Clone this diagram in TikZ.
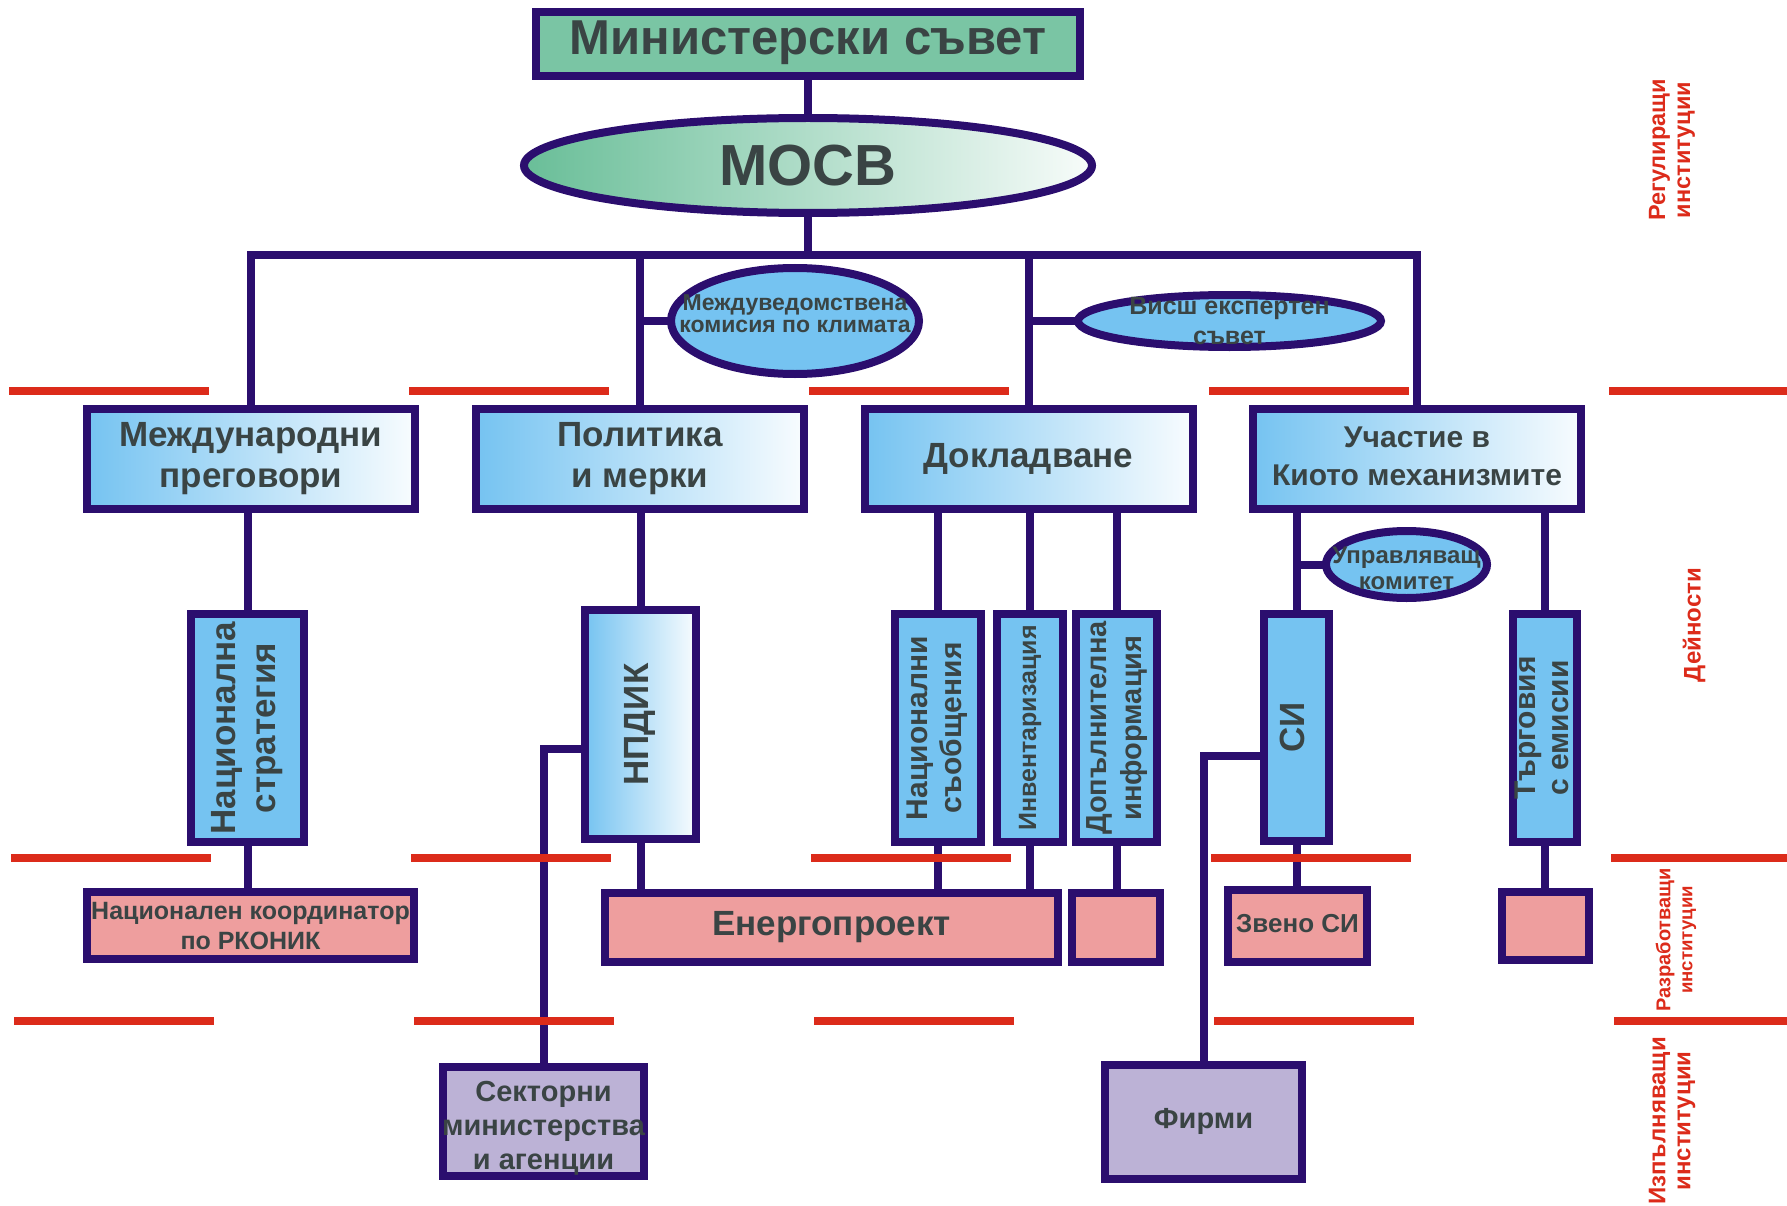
\documentclass[tikz,border=0pt]{standalone}
\usepackage{fontspec}
\setmainfont{Liberation Sans}
\usepackage{graphicx}
\usetikzlibrary{shapes.geometric,shadings}

\definecolor{frame}{RGB}{43,14,110}
\definecolor{topgreen}{RGB}{122,197,164}
\definecolor{ellgreen}{RGB}{105,190,152}
\definecolor{skyb}{RGB}{117,195,241}
\definecolor{pinkf}{RGB}{238,158,158}
\definecolor{lavf}{RGB}{188,178,214}
\definecolor{redl}{RGB}{220,43,26}
\definecolor{txt}{RGB}{58,68,68}

\newcommand{\fs}[2]{\fontsize{#1}{#2}\selectfont}
\newcommand{\ct}[1]{\makebox[0pt]{\begin{tabular}{@{}c@{}}#1\end{tabular}}}
\newcommand{\vt}[1]{\makebox[0pt]{\rotatebox{90}{\begin{tabular}{@{}c@{}}#1\end{tabular}}}}
\newcommand{\lowr}[2]{\raisebox{-#1}[\height][\depth]{#2}}

\begin{document}
\begin{tikzpicture}[x=1pt,y=-1pt,
  bx/.style={rectangle,draw=frame,line width=8pt,inner sep=0pt,outer sep=0pt,text=txt,font=\bfseries},
  elb/.style={ellipse,draw=frame,line width=8pt,inner sep=0pt,outer sep=0pt},
  gblue/.style={left color=skyb,right color=white!95!skyb},
  sblue/.style={fill=skyb},
  pnk/.style={fill=pinkf},
  lav/.style={fill=lavf},
  conn/.style={draw=frame,line width=8pt},
  redln/.style={draw=redl,line width=8pt,dash pattern=on 200pt off 200pt},
  rlab/.style={text=redl,font=\bfseries,rotate=90,align=center,inner sep=0pt},
  elab/.style={text=txt,align=center,inner sep=0pt}
]
\useasboundingbox (0,0) rectangle (1787,1206);

% level 0
\node[bx,fill=topgreen,minimum width=544,minimum height=64,font=\bfseries\fs{49}{55}] (ms) at (808,44) {\ct{Министерски съвет}};
\node[elb,left color=ellgreen,right color=white!95!ellgreen,minimum width=568,minimum height=95,
  label={[elab,font=\bfseries\fs{58}{64}]center:МОСВ}] (mosv) at (808,165.5) {};
\coordinate (bus) at (808,255);

% commissions
\node[elb,sblue,minimum width=248,minimum height=106,
  label={[elab,font=\bfseries\fs{23}{22},yshift=7pt]center:{Междуведомствена\\комисия по климата}}] (mvk) at (795,321) {};
\node[elb,sblue,minimum width=303,minimum height=52,
  label={[elab,font=\bfseries\fs{25}{30}]center:{Висш експертен\\съвет}}] (ves) at (1229.5,321) {};

% level 2
\node[bx,gblue,minimum width=328,minimum height=100,font=\bfseries\fs{35}{41}] (mp) at (251,459) {\ct{Международни\\преговори}};
\node[bx,gblue,minimum width=328,minimum height=100,font=\bfseries\fs{35}{41}] (pm) at (640,459) {\ct{Политика\\и мерки}};
\node[bx,gblue,minimum width=328,minimum height=100,font=\bfseries\fs{35}{41}] (dk) at (1028.5,459) {\ct{Докладване}};
\node[bx,gblue,minimum width=328,minimum height=100,font=\bfseries\fs{30}{38}] (uk) at (1417,459) {\ct{Участие в\\Киото механизмите}};

% level 3
\node[bx,sblue,minimum width=113,minimum height=228,font=\bfseries\fs{35}{40}] (ns) at (247.5,728) {\vt{Национална\\стратегия}};
\node[bx,gblue,minimum width=111,minimum height=229,font=\bfseries\fs{35}{40}] (npdik) at (640.5,724.5) {\vt{НПДИК}};
\node[bx,sblue,minimum width=86,minimum height=228,font=\bfseries\fs{30}{34}] (nsb) at (938,728) {\vt{Национални\\съобщения}};
\node[bx,sblue,minimum width=66,minimum height=228,font=\bfseries\fs{25}{30}] (inv) at (1030,728) {\vt{Инвентаризация}};
\node[bx,sblue,minimum width=81,minimum height=228,font=\bfseries\fs{29}{35}] (dop) at (1116.5,728) {\vt{Допълнителна\\информация}};
\node[bx,sblue,minimum width=65,minimum height=227,font=\bfseries\fs{35}{40}] (si) at (1296.5,727.5) {\vt{СИ}};
\node[bx,sblue,minimum width=64,minimum height=228,font=\bfseries\fs{30}{33}] (tr) at (1545,728) {\vt{Търговия\\с емисии}};
\node[elb,sblue,minimum width=161,minimum height=67,
  label={[elab,font=\bfseries\fs{24}{26},yshift=-4pt]center:{Управляващ\\комитет}}] (upr) at (1406.5,564.5) {};

% level 4
\node[bx,pnk,minimum width=327,minimum height=67,font=\bfseries\fs{25}{30}] (nk) at (250.5,925.5) {\lowr{3pt}{\ct{Национален координатор\\по РКОНИК}}};
\node[bx,pnk,minimum width=453,minimum height=69,font=\bfseries\fs{35}{40}] (en) at (831.5,927.5) {\ct{Енергопроект}};
\node[bx,pnk,minimum width=88,minimum height=69] (p1) at (1116,927.5) {};
\node[bx,pnk,minimum width=139,minimum height=72,font=\bfseries\fs{26}{30}] (zsi) at (1297.5,926) {\ct{Звено СИ}};
\node[bx,pnk,minimum width=87,minimum height=68] (p2) at (1545.5,926) {};

% level 5
\node[bx,lav,minimum width=201,minimum height=109,font=\bfseries\fs{29}{34}] (sek) at (543.5,1121.5) {\lowr{7pt}{\ct{Секторни\\министерства\\и агенции}}};
\node[bx,lav,minimum width=197,minimum height=114,font=\bfseries\fs{29}{34}] (fir) at (1203.5,1122) {\ct{Фирми}};

% connectors
\coordinate (ya) at (0,749);
\coordinate (yb) at (0,756);
\draw[conn] (ms.south) -- (mosv.north);
\draw[conn] (mosv.south) -- (mosv.south |- bus);
\draw[conn] (mp.north) |- (bus) -| (uk.north);
\draw[conn] (pm.north) -- (pm.north |- bus);
\draw[conn] (dk.north) -- (dk.north |- bus);
\draw[conn] (mvk.west) -- (mvk.west -| pm.north);
\draw[conn] (ves.west) -- (ves.west -| dk.north);
\draw[conn] (ns.north) -- (ns.north |- mp.south);
\draw[conn] (npdik.north) -- (npdik.north |- pm.south);
\draw[conn] (nsb.north) -- (nsb.north |- dk.south);
\draw[conn] (inv.north) -- (inv.north |- dk.south);
\draw[conn] (dop.north) -- (dop.north |- dk.south);
\draw[conn] (si.north) -- (si.north |- uk.south);
\draw[conn] (upr.west) -- (upr.west -| si.north);
\draw[conn] (tr.north) -- (tr.north |- uk.south);
\draw[conn] (ns.south) -- (ns.south |- nk.north);
\draw[conn] (npdik.south) -- (npdik.south |- en.north);
\draw[conn] (nsb.south) -- (nsb.south |- en.north);
\draw[conn] (inv.south) -- (inv.south |- en.north);
\draw[conn] (dop.south) -- (dop.south |- p1.north);
\draw[conn] (si.south) -- (si.south |- zsi.north);
\draw[conn] (tr.south) -- (tr.south |- p2.north);
\draw[conn] (npdik.west |- ya) -| (sek.north);
\draw[conn] (si.west |- yb) -| (fir.north);

% red separators
\draw[redln] (9,391) -- (1787,391);
\draw[redln] (11,858) -- (1787,858);
\draw[redln] (14,1021) -- (1787,1021);

% side labels
\node[rlab,font=\bfseries\fs{23.5}{25}] (reg) at (1672,150) {Регулиращи\\институции};
\node[rlab,font=\bfseries\fs{24}{26}] (dey) at (1694,625) {Дейности};
\node[rlab,font=\bfseries\fs{20}{22}] (raz) at (1676,940) {Разработващи\\{\fs{18.6}{22}институции}};
\node[rlab,font=\bfseries\fs{24}{25}] (izp) at (1672,1121) {Изпълняващи\\институции};
\end{tikzpicture}
\end{document}
